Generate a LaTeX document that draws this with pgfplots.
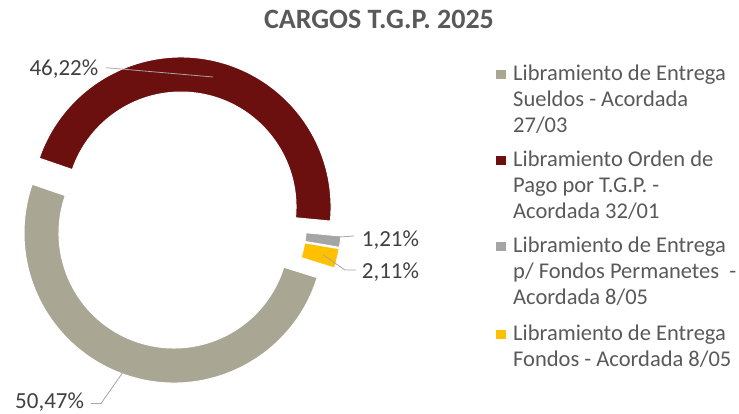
\documentclass[border=0pt]{standalone}
\usepackage{pgfplots}
\pgfplotsset{compat=1.18}
\usepackage{pgfplotstable}
\usetikzlibrary{calc}
\usepackage{fontspec}
\setmainfont{Carlito}
\definecolor{cBeige}{HTML}{A9A793}
\definecolor{cRed}{HTML}{6B0F0F}
\definecolor{cGray}{HTML}{A5A5A5}
\definecolor{cYellow}{HTML}{FFC000}
\definecolor{txt}{HTML}{595959}
\definecolor{lbl}{HTML}{404040}
\definecolor{lead}{HTML}{A6A6A6}

\pgfplotstableread[col sep=comma]{
serie,value
Sueldos,50.47
OrdenPago,46.22
FondosPerm,1.21
Fondos,2.11
}\cargos

% ring segment: colour, start angle, end angle (clockwise), exploded along bisector
\newcommand\seg[3]{%
  \pgfmathsetmacro\segmid{(#2+#3)/2}%
  \pgfmathsetmacro\segox{178.2+13.5*cos(\segmid)}%
  \pgfmathsetmacro\segoy{193.8+13.5*sin(\segmid)}%
  \edef\segtmp{\noexpand\filldraw[fill=#1,draw=white,line width=1pt]
    ($(axis cs:\segox,\segoy)+(#2:150pt)$) arc[start angle=#2,end angle=#3,radius=150pt]
    -- ($(axis cs:\segox,\segoy)+(#3:115pt)$) arc[start angle=#3,end angle=#2,radius=115pt] -- cycle;}%
  \segtmp}

\newcommand\legline[2]{\node[anchor=base west,inner sep=0pt,text=txt,font=\fontsize{22.5}{26}\selectfont] at (axis cs:513,#1) {#2};}
\tikzset{dlabel/.style={anchor=base west,inner sep=0pt,text=lbl,font=\fontsize{23}{27}\selectfont}}

\begin{document}
\begin{tikzpicture}
\pgfplotstablegetelem{0}{value}\of\cargos \let\vA\pgfplotsretval
\pgfplotstablegetelem{1}{value}\of\cargos \let\vB\pgfplotsretval
\pgfplotstablegetelem{2}{value}\of\cargos \let\vC\pgfplotsretval
\pgfplotstablegetelem{3}{value}\of\cargos \let\vD\pgfplotsretval
\pgfmathsetmacro\aS{-17.3}
\pgfmathsetmacro\aA{\aS-3.6*\vA}
\pgfmathsetmacro\aB{\aA-3.6*\vB}
\pgfmathsetmacro\aC{\aB-3.6*\vC}
\pgfmathsetmacro\aD{\aC-3.6*\vD}
\begin{axis}[x=1pt,y=1pt,xmin=0,xmax=739,ymin=0,ymax=414,hide axis,clip=false]
\path (axis cs:0,0) rectangle (axis cs:739,414);
\seg{cBeige}{\aS}{\aA}
\seg{cRed}{\aA}{\aB}
\seg{cGray}{\aB}{\aC}
\seg{cYellow}{\aC}{\aD}
% title
\node[anchor=base,inner sep=0pt,text=txt,font=\bfseries\fontsize{28}{32}\selectfont] at (axis cs:379,385.2) {CARGOS T.G.P. 2025};
% leader lines
\draw[lead,line width=0.8pt] (axis cs:106,346.3) -- (axis cs:213,337);
\draw[lead,line width=0.8pt] (axis cs:91,10.5) -- (axis cs:101,10.5) -- (axis cs:133,56);
\draw[lead,line width=0.8pt] (axis cs:335,176.7) -- (axis cs:354,178);
\draw[lead,line width=0.8pt] (axis cs:323.3,159) -- (axis cs:345,144) -- (axis cs:356,144);
% data labels
\node[dlabel] at (axis cs:29.3,338.3) {46,22\%};
\node[dlabel] at (axis cs:15,5) {50,47\%};
\node[dlabel] at (axis cs:361.7,167.3) {1,21\%};
\node[dlabel] at (axis cs:361.7,135.7) {2,11\%};
% legend
\fill[cBeige] (axis cs:496,335) rectangle (axis cs:506,344);
\legline{333.3}{Libramiento de Entrega}
\legline{307.3}{Sueldos - Acordada}
\legline{281.3}{27/03}
\fill[cRed] (axis cs:496,249.2) rectangle (axis cs:506,258.2);
\legline{247.5}{Libramiento Orden de}
\legline{221.5}{Pago por T.G.P. -}
\legline{195.5}{Acordada 32/01}
\fill[cGray] (axis cs:496,162.7) rectangle (axis cs:506,171.7);
\legline{161}{Libramiento de Entrega}
\legline{135}{p/ Fondos Permanetes \ -}
\legline{109}{Acordada 8/05}
\fill[cYellow] (axis cs:496,75) rectangle (axis cs:506,84);
\legline{73.3}{Libramiento de Entrega}
\legline{47.3}{Fondos - Acordada 8/05}
\end{axis}
\end{tikzpicture}
\end{document}
